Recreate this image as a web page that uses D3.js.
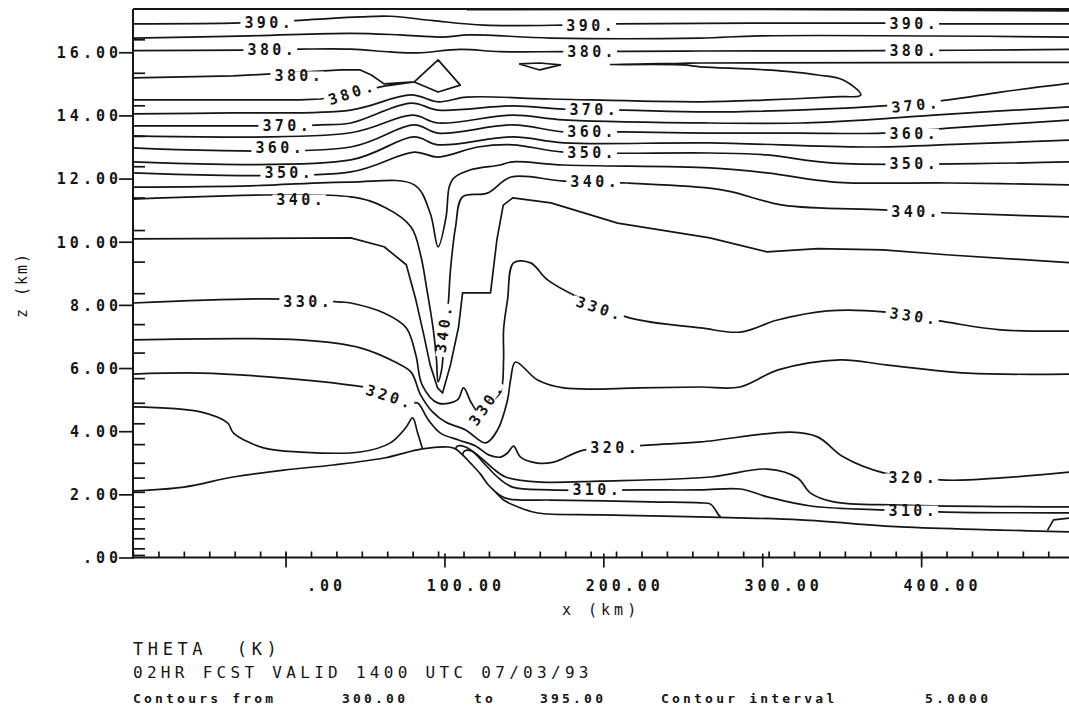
<!DOCTYPE html>
<html>
<head>
<meta charset="utf-8">
<script src="https://cdn.jsdelivr.net/npm/d3@7"></script>
<style>
  body { margin: 0; background: #fff; }
  svg text { font-family: "DejaVu Sans Mono", monospace; fill: #151515; white-space: pre; }
</style>
</head>
<body>
<div id="chart"></div>
<script>
const c395 = [[114,17.35],[261,17.36],[376,17.34],[496,17.31]];
const c390 = [[-96,16.90],[-28,16.93],[11,17.02],[47,17.12],[66,17.14],[93,17.00],[125,16.86],[175,16.86],[206,16.90],[378,16.92],[410,16.90],[496,16.90]];
const c385 = [[-96,16.45],[-22,16.52],[41,16.60],[72,16.55],[98,16.48],[116,16.55],[167,16.45],[261,16.45],[299,16.52],[496,16.48]];
const c380 = [[-96,16.05],[-28,16.07],[9,16.10],[41,16.10],[66,16.01],[83,15.98],[110,16.09],[135,16.02],[175,16.02],[261,16.04],[378,16.05],[496,16.09]];
const c380fold = [[-96,15.19],[-33,15.25],[35,15.44],[47,15.44],[54,15.28],[62,15.00],[81,15.06],[96,15.76],[110,14.96],[96,14.74],[81,15.06],[62,14.93],[57,14.87],[38,14.65],[22,14.52],[9,14.49],[-96,14.49]];
const c375 = [[-96,14.05],[-33,14.08],[41,14.17],[79,14.65],[96,14.43],[114,14.58],[167,14.52],[261,14.43],[303,14.49],[345,14.59],[362,14.65],[351,15.12],[335,15.28],[303,15.44],[261,15.54],[250,15.60],[204,15.61],[250,15.65],[261,15.66],[496,15.68]];
const cLens = [[147,15.63],[160,15.44],[173,15.60],[160,15.66],[147,15.63]];
const c370 = [[-96,13.67],[-19,13.67],[22,13.70],[41,13.76],[79,14.39],[96,14.17],[143,14.30],[175,14.20],[213,14.17],[267,14.11],[356,14.24],[376,14.30],[417,14.49],[450,14.74],[496,15.03]];
const c365 = [[-96,13.35],[41,13.45],[80,14.01],[96,13.76],[143,14.01],[175,13.86],[267,13.76],[324,13.76],[366,13.86],[408,14.01],[496,14.28]];
const c360 = [[-96,12.97],[41,13.00],[81,13.70],[96,13.44],[143,13.70],[175,13.48],[213,13.48],[267,13.44],[324,13.44],[376,13.44],[417,13.60],[496,13.86]];
const c355 = [[-96,12.53],[41,12.59],[81,13.32],[96,13.07],[143,13.32],[175,13.13],[267,13.13],[366,13.00],[429,13.10],[496,13.22]];
const c350 = [[-96,12.18],[41,12.21],[81,12.84],[96,12.68],[121,13.00],[143,13.07],[175,12.84],[267,12.81],[303,12.75],[345,12.49],[496,12.53]];
const c345 = [[-96,11.73],[-22,11.77],[41,11.89],[81,11.80],[91,10.91],[96,9.84],[101,10.78],[103,11.73],[106,12.02],[116,12.27],[135,12.43],[143,12.53],[175,12.43],[267,12.34],[303,12.18],[345,11.89],[418,11.86],[496,11.80]];
const c340 = [[-96,11.35],[41,11.42],[62,11.10],[79,10.47],[85,9.58],[89,8.47],[93,7.21],[95,6.26],[96,5.56],[98.2,5.94],[99.4,6.57],[100.7,7.21],[102,7.84],[102.6,8.16],[103.8,9.11],[107,10.47],[111.4,11.42],[127,11.54],[142,12.05],[175,11.92],[215,11.86],[267,11.70],[281,11.58],[313,11.16],[376,11.01],[417,10.91],[496,10.78]];
const c335 = [[-96,10.09],[41,10.12],[62,9.84],[76,9.27],[82,8.16],[87,7.05],[91,6.10],[95.7,5.37],[98.8,5.21],[103.8,6.10],[108.9,7.30],[111.4,8.38],[129,8.38],[133,10.06],[137,11.16],[143,11.39],[167,11.23],[209,10.59],[267,10.12],[303,9.68],[335,9.78],[376,9.74],[418,9.58],[496,9.33]];
const c330 = [[-96,8.06],[-11,8.19],[35,8.09],[41,8.06],[62,7.74],[76,7.27],[82,6.41],[86,5.46],[96,4.89],[108.2,4.99],[112,5.37],[117,4.89],[121.5,4.61],[129,4.92],[135.3,5.24],[137.2,6.26],[137.2,7.21],[139.7,8.16],[143.5,9.33],[154.2,9.33],[164.9,8.79],[183.8,8.25],[217.1,7.58],[261.2,7.27],[286.3,7.14],[309.6,7.52],[341.1,7.81],[376.3,7.78],[415.4,7.46],[450,7.21],[496,7.17]];
const c325 = [[-96,6.89],[9.4,6.89],[47,6.64],[69,6.19],[79,5.87],[85,5.15],[92.5,4.61],[100.7,4.29],[113.3,4.04],[125.9,3.63],[133.4,4.04],[139.7,4.99],[141.6,5.62],[144.7,6.19],[158.6,5.62],[175,5.37],[223,5.37],[261,5.40],[286,5.40],[310,5.94],[349,6.26],[378,6.10],[429,5.84],[496,5.81]];
const c320 = [[-96,5.81],[-53.5,5.84],[-11,5.72],[40.9,5.46],[51.6,5.37],[78.7,4.89],[83.1,4.89],[90,4.35],[97.5,3.94],[108.9,3.72],[119.6,3.53],[127.8,3.25],[135.3,3.18],[139.7,3.31],[143.5,3.53],[147.9,3.18],[158.6,2.99],[168.7,3.02],[187.5,3.40],[227.8,3.56],[261.2,3.66],[317.8,3.97],[334.8,3.82],[351.2,3.18],[376.3,2.68],[415.4,2.45],[450,2.52],[496,2.72]];
const c315 = [[-96,4.77],[-53.5,4.61],[-36.5,4.26],[-32.7,3.94],[-13.8,3.47],[9.4,3.34],[47,3.34],[66,3.63],[75.5,4.10],[80,4.42],[83,3.97],[86.2,3.44]];
const cSlopeA = [[107,3.44],[108.2,3.53],[113.3,3.50],[121.5,3.22],[130.3,2.83],[138.5,2.55],[160.5,2.39],[198.2,2.42],[267.5,2.55],[303.3,2.80],[322.2,2.52],[330.4,2.04],[344.9,1.76],[387,1.66],[496,1.60]];
const c310 = [[111.4,3.25],[112.6,3.37],[117,3.37],[125.9,2.93],[134,2.52],[142.9,2.23],[166.8,2.14],[223.4,2.14],[261.2,2.14],[286.3,2.17],[303.3,1.92],[330.4,1.63],[378.9,1.50],[415.4,1.44],[496,1.41]];
const cSlopeB = [[132.2,2.07],[138.5,1.88],[147.9,1.82],[166.8,1.82],[229.7,1.76],[261.2,1.73],[267.5,1.69],[272.5,1.35],[273.8,1.28]];
const cRightLens = [[479.5,0.86],[483.3,1.19],[493.4,1.25],[496,1.25]];
const terrain = [[-96,2.11],[-64,2.23],[-33,2.55],[-1,2.77],[30,2.93],[62,3.15],[86,3.44],[102.6,3.50],[107,3.44],[111.4,3.25],[116.4,2.99],[122.7,2.64],[127.1,2.33],[132.2,2.07],[137.2,1.82],[147.9,1.57],[158.6,1.41],[198.2,1.35],[267.5,1.28],[324,1.19],[387,0.97],[450,0.87],[496,0.81]];

// which lines are drawn as straight plotter segments
const sharpLines = [c380fold, cLens, c335, cRightLens];

// contour labels: [x km, z km, text, rotation deg]
const contourLabels = [
  [-11.3,16.93,"390.",0],[191.3,16.86,"390.",0],[394.6,16.90,"390.",0],
  [-9.4,16.07,"380.",0],[191.9,16.01,"380.",0],[394.6,16.04,"380.",0],
  [7.6,15.25,"380.",0],[40.9,14.71,"380.",-18],
  [0,13.67,"370.",0],[193.2,14.17,"370.",0],[395.8,14.33,"370.",-6],
  [-4.4,12.97,"360.",0],[191.9,13.48,"360.",0],[394.6,13.44,"360.",0],
  [1.3,12.18,"350.",0],[191.9,12.81,"350.",0],[394.6,12.49,"350.",0],
  [8.8,11.35,"340.",0],[193.8,11.89,"340.",0],[395.8,10.94,"340.",0],[99.4,7.21,"340.",-82],
  [13.2,8.09,"330.",0],[197,7.90,"330.",18],[394.6,7.65,"330.",8],[125.9,4.83,"330.",-55],
  [64.8,5.11,"320.",18],[206.4,3.47,"320.",0],[394,2.52,"320.",0],
  [195.1,2.14,"310.",0],[394,1.50,"310.",0]
];

// axes
const zMajor = [0,2,4,6,8,10,12,14,16];
const zLevels = [0.08,0.29,0.61,0.92,1.24,1.61,2.08,2.53,3.00,3.59,4.25,4.90,5.68,6.49,7.39,8.37,9.37,10.37,11.40,12.39,13.35,14.32,15.35,16.41];
const xMajor = [0,100,200,300,400];
const xGrid = [-96,-80,-64,-48,-32,-16,0,16,32,48,64,80,96,112,128,144,160,176,192,208,224,240,256,272,288,304,320,336,352,368,384,400,416,432,448,464,480,496];

// caption block: [x px, baseline px, text, font size, letter spacing, weight]
const footer = [
  [133,655,"THETA  (K)",17,4.6,"normal"],
  [133,678,"02HR FCST VALID 1400 UTC 07/03/93",16,4.3,"normal"],
  [133,703,"Contours from",13,3.2,"bold"],
  [342,703,"300.00",13,3.2,"bold"],
  [474,703,"to",13,3.2,"bold"],
  [540,703,"395.00",13,3.2,"bold"],
  [661,703,"Contour interval",13,3.2,"bold"],
  [925,703,"5.0000",13,3.2,"bold"]
];

const width = 1069, height = 707;
const plotLeft = 133, plotTop = 9, plotBottom = 557.5;

const svg = d3.select("#chart").append("svg")
    .attr("width", width)
    .attr("height", height)
    .style("background", "#fff");

const x = d3.scaleLinear().domain([-96, 496]).range([plotLeft, plotLeft + 592 * 1.589]);
const y = d3.scaleLinear().domain([0, 17.37]).range([plotBottom, plotTop]);

svg.append("clipPath").attr("id", "plot")
    .append("rect").attr("x", plotLeft).attr("y", plotTop)
    .attr("width", width - plotLeft).attr("height", plotBottom - plotTop);

const allLines = [c395, c390, c385, c380, c380fold, c375, cLens, c370, c365, c360, c355, c350, c345,
    c340, c335, c330, c325, c320, c315, cSlopeA, c310, cSlopeB, cRightLens, terrain];

const smooth = d3.line().x(d => x(d[0])).y(d => y(d[1])).curve(d3.curveCatmullRom.alpha(0.5));
const straight = d3.line().x(d => x(d[0])).y(d => y(d[1]));

svg.append("g").attr("clip-path", "url(#plot)")
    .selectAll("path")
    .data(allLines)
    .join("path")
    .attr("d", d => sharpLines.includes(d) ? straight(d) : smooth(d))
    .attr("fill", "none")
    .attr("stroke", "#151515")
    .attr("stroke-width", 1.7)
    .attr("stroke-linejoin", "round");

// labels sit in a gap cut out of their line
const labelG = svg.append("g");
contourLabels.forEach(([lx, lz, txt, ang]) => {
    const g = labelG.append("g").attr("transform", `translate(${x(lx)},${y(lz)}) rotate(${ang})`);
    const r = g.append("rect").attr("fill", "#fff");
    const t = g.append("text")
        .attr("text-anchor", "middle")
        .attr("dx", 1.7)
        .attr("dy", "0.36em")
        .style("font-size", "15px")
        .style("font-weight", "bold")
        .style("letter-spacing", "3.4px")
        .text(txt);
    const b = t.node().getBBox();
    r.attr("x", b.x - 4).attr("y", -4.5).attr("width", b.width + 4).attr("height", 9);
});

// frame
const frame = svg.append("g").attr("stroke", "#151515").attr("stroke-width", 2);
frame.append("line").attr("x1", plotLeft).attr("x2", plotLeft).attr("y1", plotTop).attr("y2", plotBottom + 1);
frame.append("line").attr("x1", plotLeft).attr("x2", width).attr("y1", plotTop).attr("y2", plotTop);
frame.append("line").attr("x1", plotLeft - 1).attr("x2", width).attr("y1", plotBottom).attr("y2", plotBottom);

// y axis: labelled km ticks outside, model levels inside
const yAxis = svg.append("g").attr("transform", `translate(${plotLeft},0)`)
    .call(d3.axisLeft(y).tickValues(zMajor).tickSize(14)
        .tickFormat(d => d === 0 ? ".00" : d.toFixed(2)));
yAxis.select(".domain").remove();
yAxis.selectAll("line").attr("stroke", "#151515").attr("stroke-width", 1.7);
yAxis.selectAll("text")
    .attr("x", -11)
    .attr("dy", "0.36em")
    .style("font-family", "'DejaVu Sans Mono', monospace")
    .style("font-size", "15px")
    .style("font-weight", "bold")
    .style("letter-spacing", "4px")
    .attr("fill", "#151515");

const yLev = svg.append("g").attr("transform", `translate(${plotLeft},0)`)
    .call(d3.axisRight(y).tickValues(zLevels).tickSize(12).tickFormat(""));
yLev.select(".domain").remove();
yLev.selectAll("line").attr("stroke", "#151515").attr("stroke-width", 1.7);

// x axis: labelled ticks below, grid points inside
const xAxis = svg.append("g").attr("transform", `translate(0,${plotBottom})`)
    .call(d3.axisBottom(x).tickValues(xMajor).tickSize(10)
        .tickFormat(d => d === 0 ? ".00" : d.toFixed(2)));
xAxis.select(".domain").remove();
xAxis.selectAll("line").attr("y1", -4).attr("stroke", "#151515").attr("stroke-width", 1.7);
xAxis.selectAll("text")
    .attr("x", 60)
    .attr("y", 33)
    .attr("dy", 0)
    .attr("text-anchor", "end")
    .style("font-family", "'DejaVu Sans Mono', monospace")
    .style("font-size", "15px")
    .style("font-weight", "bold")
    .style("letter-spacing", "4px")
    .attr("fill", "#151515");

const xGridAxis = svg.append("g").attr("transform", `translate(0,${plotBottom})`)
    .call(d3.axisTop(x).tickValues(xGrid).tickSize(6).tickFormat(""));
xGridAxis.select(".domain").remove();
xGridAxis.selectAll("line").attr("stroke", "#151515").attr("stroke-width", 1.7);

// axis titles
svg.append("text")
    .attr("x", 562).attr("y", 615)
    .style("font-size", "15px").style("letter-spacing", "4px")
    .text("x (km)");
svg.append("text")
    .attr("transform", "translate(27,285) rotate(-90)")
    .attr("text-anchor", "middle")
    .style("font-size", "15px").style("letter-spacing", "2px")
    .text("z (km)");

svg.append("g").selectAll("text")
    .data(footer)
    .join("text")
    .attr("x", d => d[0])
    .attr("y", d => d[1])
    .style("font-size", d => d[3] + "px")
    .style("letter-spacing", d => d[4] + "px")
    .style("font-weight", d => d[5])
    .text(d => d[2]);
</script>
</body>
</html>
